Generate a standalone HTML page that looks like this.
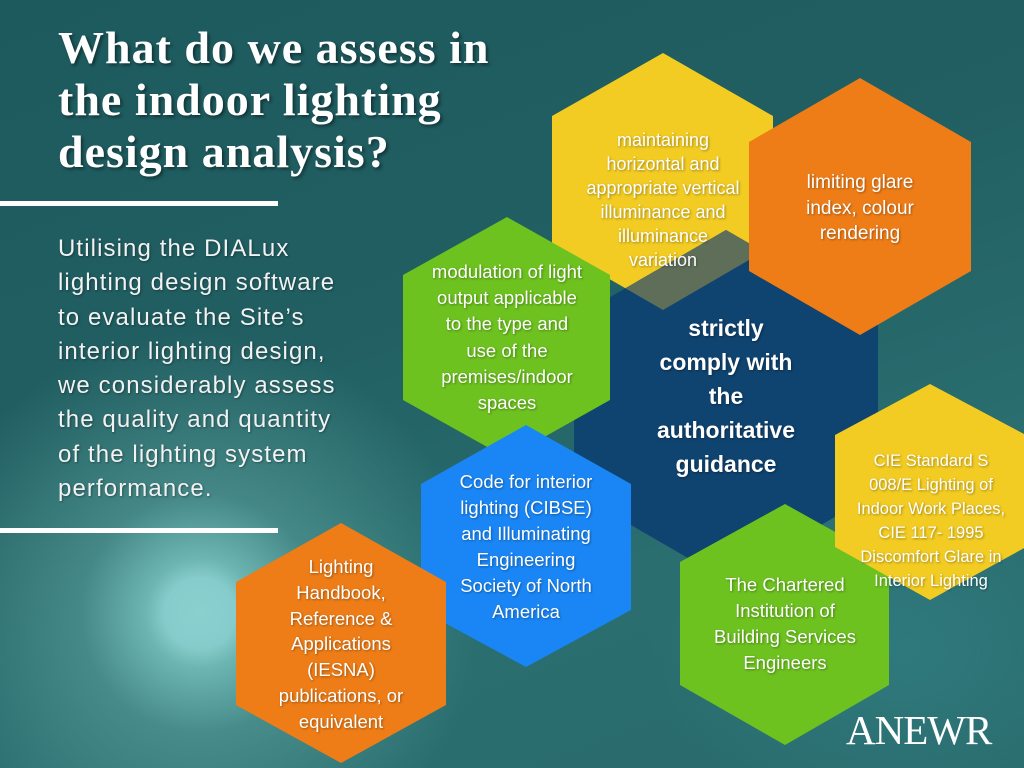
<!DOCTYPE html>
<html><head><meta charset="utf-8"><style>
html,body{margin:0;padding:0}
body{width:1024px;height:768px;overflow:hidden;position:relative;font-family:"Liberation Sans",sans-serif;
background:
radial-gradient(circle at 200px 613px,#8ad0cf 0,#86cccc 35px,rgba(125,200,195,.8) 55px,rgba(100,170,165,.5) 120px,rgba(60,120,120,0) 280px),
radial-gradient(ellipse at 900px 650px,rgba(50,130,135,.6) 0,rgba(40,110,115,0) 250px),
linear-gradient(160deg,#1d5a5e 0%,#215f62 40%,#2a6e70 70%,#2a6b6c 100%);}
svg{position:absolute;left:0;top:0}
.t{position:absolute;color:#fff;text-align:center;text-shadow:1px 1px 2px rgba(0,0,0,.35);font-size:18px;line-height:24px}
</style></head><body>
<svg width="1024" height="768">
<defs><clipPath id="nv"><polygon points="726,230 878,318 878,492 726,580 574,492 574,318"/></clipPath></defs>
<polygon points="663,53 773,116 773,246 663,310 552,246 552,116" fill="#f2cb23"/>
<polygon points="726,230 878,318 878,492 726,580 574,492 574,318" fill="#0f4370"/>
<polygon points="663,53 773,116 773,246 663,310 552,246 552,116" fill="#5f6e58" clip-path="url(#nv)"/>
<polygon points="860,78 971,142 971,271 860,335 749,271 749,142" fill="#ee7d17"/>
<polygon points="507,217 610,275 610,400 507,458 403,400 403,275" fill="#6dc21f"/>
<polygon points="526,425 631,484 631,610 526,667 421,610 421,484" fill="#1a86f5"/>
<polygon points="341,523 446,582 446,705 341,763 236,705 236,582" fill="#ee7d17"/>
<polygon points="785,504 889,562 889,685 785,745 680,685 680,562" fill="#6dc21f"/>
<polygon points="930,384 1026,435 1026,547 930,600 835,547 835,435" fill="#f2cb23"/>
<rect x="0" y="201" width="278" height="5" fill="#fff"/>
<rect x="0" y="528" width="278" height="5" fill="#fff"/>
</svg>
<div class="t" style="top:22px;text-align:left;left:58px;font-family:'Liberation Serif',serif;font-weight:bold;font-size:46px;letter-spacing:1px;line-height:52px;text-shadow:2px 2px 3px rgba(0,0,0,.45);white-space:nowrap">What do we assess in<br>the indoor lighting<br>design analysis?</div>
<div class="t" style="left:58px;top:232px;text-align:left;font-size:24px;letter-spacing:1.1px;line-height:34.3px;white-space:nowrap;color:#f2f2f2">Utilising the DIALux<br>lighting design software<br>to evaluate the Site’s<br>interior lighting design,<br>we considerably assess<br>the quality and quantity<br>of the lighting system<br>performance.</div>
<div class="t" style="left:553px;top:128px;width:220px">maintaining<br>horizontal and<br>appropriate vertical<br>illuminance and<br>illuminance<br>variation</div>
<div class="t" style="left:760px;top:170px;width:200px;font-size:19px;line-height:25.5px">limiting glare<br>index, colour<br>rendering</div>
<div class="t" style="left:397px;top:259px;width:220px;font-size:18.5px;line-height:26.2px">modulation of light<br>output applicable<br>to the type and<br>use of the<br>premises/indoor<br>spaces</div>
<div class="t" style="left:616px;top:311px;width:220px;font-weight:bold;font-size:23px;line-height:34px">strictly<br>comply with<br>the<br>authoritative<br>guidance</div>
<div class="t" style="left:831px;top:449px;width:200px;font-size:16.5px;line-height:24px">CIE Standard S<br>008/E Lighting of<br>Indoor Work Places,<br>CIE 117- 1995<br>Discomfort Glare in<br>Interior Lighting</div>
<div class="t" style="left:416px;top:469px;width:220px;font-size:18.5px;line-height:26px">Code for interior<br>lighting (CIBSE)<br>and Illuminating<br>Engineering<br>Society of North<br>America</div>
<div class="t" style="left:231px;top:554px;width:220px;font-size:18.5px;line-height:25.8px">Lighting<br>Handbook,<br>Reference &amp;<br>Applications<br>(IESNA)<br>publications, or<br>equivalent</div>
<div class="t" style="left:675px;top:572px;width:220px;font-size:18.5px;line-height:26px">The Chartered<br>Institution of<br>Building Services<br>Engineers</div>
<div class="t" style="left:846px;top:706px;font-family:'Liberation Serif',serif;font-size:41px;line-height:48px;letter-spacing:-1px;text-shadow:none">ANEWR</div>
</body></html>
